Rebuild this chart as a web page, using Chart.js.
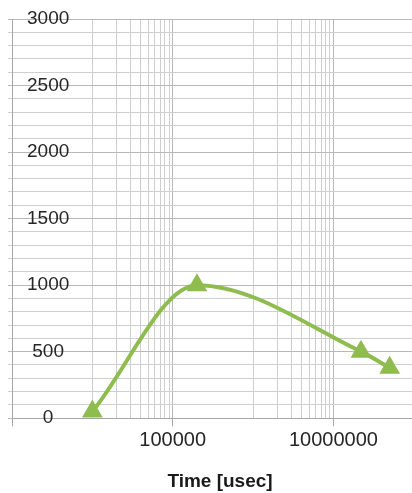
<!DOCTYPE html>
<html>
<head>
<meta charset="utf-8">
<script src="https://cdn.jsdelivr.net/npm/chart.js@4"></script>
<style>
  html, body { margin: 0; padding: 0; background: #fff; overflow: hidden; }
  #wrap { position: relative; width: 440px; height: 493px; }
</style>
</head>
<body>
<div id="wrap"><canvas id="chart"></canvas></div>
<script>
// values
const timeUsec = [10000, 200000, 22000000, 50000000];
const values = [50, 1000, 500, 380];

// x axis: labelled ticks, major lines, and the decades that get minor lines
const xLabelTicks = [100000, 10000000];
const xMajorTicks = [1000, 100000, 10000000];
const xMinorDecades = [10000, 1000000];
const yLabelStep = 500;

const green = '#8fbc4f';
const minorGrid = '#cfcfcf';
const majorGrid = '#b8b8b8';

// every vertical grid line: majors plus 1..9 x each minor decade
const xGridTicks = xMajorTicks.slice();
xMinorDecades.forEach(d => {
    for (let k = 1; k <= 9; k++) xGridTicks.push(k * d);
});
xGridTicks.sort((a, b) => a - b);

const ctx = document.getElementById('chart').getContext('2d');
new Chart(ctx, {
    type: 'line',
    data: {
        datasets: [{
            data: timeUsec.map((t, i) => ({ x: t, y: values[i] })),
            borderColor: green,
            backgroundColor: green,
            borderWidth: 4,
            cubicInterpolationMode: 'monotone',
            pointStyle: 'triangle',
            pointRadius: 10,
            pointBorderWidth: 2,
            pointBorderColor: green,
            pointBackgroundColor: green,
            fill: false
        }]
    },
    options: {
        responsive: true,
        maintainAspectRatio: false,
        animation: false,
        layout: { padding: { top: 19, left: 0, right: 0, bottom: 0 } },
        plugins: {
            legend: { display: false },
            tooltip: { enabled: false }
        },
        scales: {
            x: {
                type: 'logarithmic',
                min: 1000,
                max: 150000000,
                afterBuildTicks: scale => {
                    scale.ticks = xGridTicks.map(v => ({ value: v }));
                },
                ticks: {
                    autoSkip: false,
                    maxRotation: 0,
                    padding: 2,
                    color: '#262626',
                    font: { family: 'Liberation Sans', size: 20 },
                    callback: value => xLabelTicks.includes(value) ? String(value) : ''
                },
                grid: {
                    color: c => xMajorTicks.includes(c.tick.value) ? majorGrid : minorGrid,
                    tickColor: c => xMajorTicks.includes(c.tick.value) ? '#a6a6a6' : 'rgba(0,0,0,0)',
                    tickLength: 8,
                    lineWidth: 1
                },
                border: { color: '#a6a6a6', width: 1 },
                title: {
                    display: true,
                    text: 'Time [usec]',
                    color: '#1a1a1a',
                    font: { family: 'Liberation Sans', size: 19, weight: 'bold' },
                    padding: { top: 16, bottom: 0 }
                }
            },
            y: {
                min: 0,
                max: 3000,
                // labels sit inside the plot, so the axis itself stays narrow
                afterFit: scale => {
                    scale.width = 10;
                    scale.paddingTop = 0;
                    scale.paddingBottom = 0;
                },
                ticks: {
                    stepSize: 100,
                    autoSkip: false,
                    mirror: true,
                    crossAlign: 'center',
                    padding: 15,
                    color: '#262626',
                    font: { family: 'Liberation Sans', size: 19 },
                    callback: value => value % yLabelStep === 0 ? String(value) : ''
                },
                grid: {
                    color: c => c.tick.value % yLabelStep === 0 ? majorGrid : minorGrid,
                    tickColor: c => c.tick.value % yLabelStep === 0 ? majorGrid : minorGrid,
                    tickLength: 4,
                    lineWidth: 1
                },
                border: { color: '#a6a6a6', width: 1 }
            }
        }
    }
});
</script>
</body>
</html>
